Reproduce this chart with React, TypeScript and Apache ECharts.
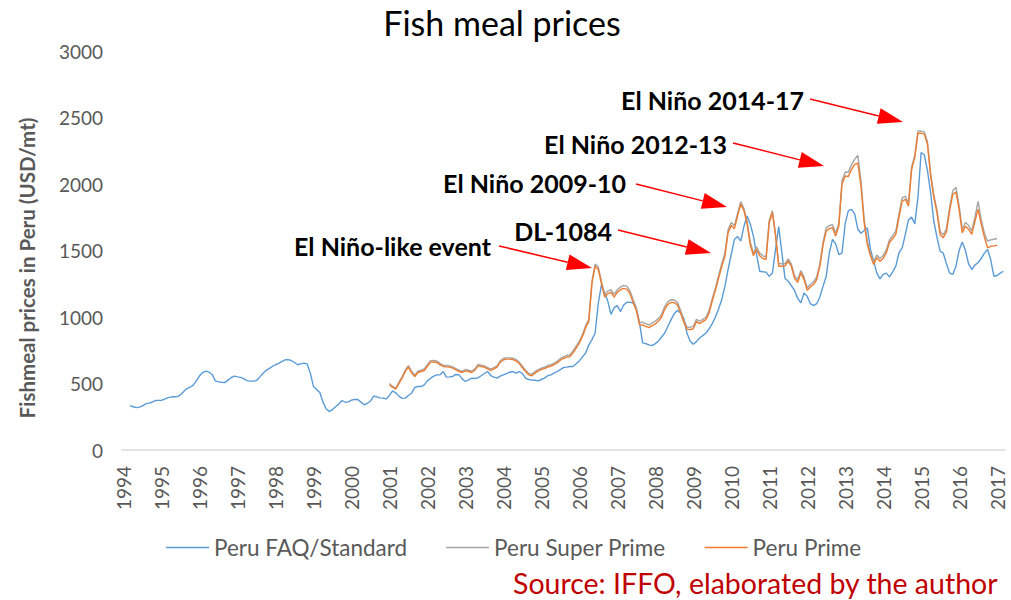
import React, { useEffect, useRef } from 'react';
import * as echarts from 'echarts';

const YEARS = ['1994','1995','1996','1997','1998','1999','2000','2001','2002','2003','2004','2005','2006','2007','2008','2009','2010','2011','2012','2013','2014','2015','2016','2017'];
const MONTHS_LAST_YEAR = 3;
const CATEGORIES: string[] = [];
YEARS.forEach((y, yi) => {
  const n = yi === YEARS.length - 1 ? MONTHS_LAST_YEAR : 12;
  for (let m = 1; m <= n; m++) CATEGORIES.push(`${y}-${String(m).padStart(2, '0')}`);
});

const Y_TICKS = [0, 500, 1000, 1500, 2000, 2500, 3000];
const SERIES_NAMES = ['Peru FAQ/Standard', 'Peru Super Prime', 'Peru Prime'];

const FAQ_STANDARD: (number | null)[] = [
  null, null,
  334,325,319,322,332,347,352,359,372,373,
  374,382,394,398,400,401,415,440,462,472,488,520,
  558,582,593,585,568,520,512,509,507,525,545,555,
  550,546,535,522,518,519,522,548,575,598,612,628,
  641,652,665,678,680,673,658,641,648,653,648,578,
  477,455,432,360,310,289,305,325,345,372,359,362,
  375,380,380,360,340,350,368,405,400,392,390,384,
  410,445,430,405,388,390,410,427,470,478,477,490,
  520,540,555,565,565,590,548,550,553,568,565,535,
  515,528,540,538,542,558,575,590,560,548,540,555,
  565,575,585,590,578,590,575,540,530,525,524,520,
  530,540,558,565,578,590,605,620,623,628,628,648,
  670,700,729,790,830,880,1106,1244,1180,1120,1020,1070,
  1085,1040,1090,1110,1112,1105,1060,960,805,800,790,785,
  800,820,850,880,930,980,1025,1050,1030,990,880,820,
  795,815,842,860,880,910,950,1000,1060,1131,1230,1357,
  1470,1583,1605,1570,1680,1759,1700,1608,1470,1344,1340,1337,
  1306,1330,1508,1679,1483,1290,1269,1235,1200,1140,1106,1181,
  1156,1100,1085,1100,1150,1230,1306,1483,1583,1550,1470,1480,
  1700,1800,1809,1775,1660,1630,1650,1671,1508,1420,1330,1287,
  1320,1330,1302,1340,1382,1483,1520,1620,1730,1751,1700,1900,
  2237,2220,2100,1935,1720,1600,1495,1480,1400,1330,1320,1382,
  1500,1563,1500,1400,1357,1390,1410,1440,1480,1508,1430,1306,
  1312,1330,1344,
];

const NULL_84 = new Array(84).fill(null);

const SUPER_PRIME: (number | null)[] = [
  ...NULL_84,
  500,478,465,510,552,600,635,592,562,592,600,610,
  642,672,674,668,650,638,635,632,625,612,600,592,
  605,600,592,610,643,638,633,620,608,620,633,670,
  688,693,693,690,680,660,630,600,575,570,590,605,
  615,622,635,642,652,667,688,700,712,714,745,780,
  818,868,935,982,1272,1398,1375,1268,1170,1195,1205,1170,
  1205,1225,1238,1232,1198,1132,1070,962,960,950,940,955,
  968,990,1020,1080,1115,1130,1128,1110,1050,980,925,922,
  930,982,968,982,998,1048,1138,1218,1310,1400,1478,1655,
  1710,1686,1778,1868,1818,1718,1565,1482,1528,1480,1460,1452,
  1728,1800,1625,1400,1400,1402,1437,1398,1308,1278,1350,1300,
  1220,1245,1265,1302,1400,1562,1668,1688,1694,1630,1706,2025,
  2090,2088,2145,2185,2216,2020,1735,1568,1480,1415,1466,1440,
  1462,1505,1582,1612,1645,1775,1895,1908,1856,2130,2215,2398,
  2398,2392,2318,2080,1920,1805,1642,1618,1662,1825,1950,1975,
  1838,1658,1710,1688,1648,1750,1870,1730,1630,1570,1580,1585,
  1590, null, null,
];

const PRIME: (number | null)[] = [
  ...NULL_84,
  490,470,457,500,540,590,623,580,553,583,590,598,
  630,661,662,658,640,628,625,623,615,603,590,583,
  595,590,583,600,633,628,623,610,598,610,623,660,
  678,683,683,680,670,650,620,590,565,558,578,595,
  605,612,623,630,641,655,675,688,699,700,730,766,
  804,854,920,967,1256,1380,1357,1250,1150,1175,1185,1150,
  1185,1205,1215,1210,1175,1110,1050,942,940,930,920,935,
  948,970,1000,1060,1095,1110,1108,1090,1030,960,908,905,
  912,965,950,965,980,1030,1120,1200,1290,1380,1457,1633,
  1689,1664,1759,1850,1800,1700,1545,1462,1508,1460,1440,1432,
  1709,1784,1608,1382,1382,1385,1419,1380,1290,1260,1332,1281,
  1201,1225,1244,1281,1380,1540,1646,1665,1671,1608,1683,1998,
  2060,2056,2110,2148,2156,1985,1709,1545,1460,1395,1445,1419,
  1440,1483,1560,1590,1621,1750,1872,1885,1834,2111,2200,2382,
  2382,2375,2299,2060,1900,1784,1621,1596,1640,1800,1922,1940,
  1809,1633,1683,1660,1621,1720,1809,1696,1600,1520,1533,1533,
  1540, null, null,
];

const ANNOTATIONS = [
  { text: 'El Niño 2014-17', tx: 804, ty: 100, from: [810, 99], to: [903, 122] },
  { text: 'El Niño 2012-13', tx: 727, ty: 144, from: [733, 143], to: [824, 166] },
  { text: 'El Niño 2009-10', tx: 626, ty: 183, from: [636, 184], to: [727, 207] },
  { text: 'DL-1084', tx: 612, ty: 231, from: [618, 230], to: [711, 253] },
  { text: 'El Niño-like event', tx: 491, ty: 246, from: [499, 246], to: [592, 268] },
];

const FONT = 'Lato, "Open Sans", sans-serif';
const COLORS = ['#5B9BD5', '#A5A5A5', '#ED7D31'];

function arrow(from: number[], to: number[]) {
  const dx = to[0] - from[0];
  const dy = to[1] - from[1];
  const len = Math.sqrt(dx * dx + dy * dy);
  const ux = dx / len, uy = dy / len;
  const headLen = 25, headHalf = 8;
  const bx = to[0] - ux * headLen, by = to[1] - uy * headLen;
  const px = -uy, py = ux;
  return [
    {
      type: 'line',
      shape: { x1: from[0], y1: from[1], x2: bx, y2: by },
      style: { stroke: '#FF0000', lineWidth: 1.5 },
      silent: true,
    },
    {
      type: 'polygon',
      shape: { points: [[to[0], to[1]], [bx + px * headHalf, by + py * headHalf], [bx - px * headHalf, by - py * headHalf]] },
      style: { fill: '#FF0000' },
      silent: true,
    },
  ];
}

export default function App() {
  const ref = useRef<HTMLDivElement>(null);
  useEffect(() => {
    if (!ref.current) return;
    const chart = echarts.init(ref.current, undefined, { renderer: 'svg' });
    const graphics: any[] = [
      {
        type: 'text', x: 502, y: 22,
        style: { text: 'Fish meal prices', fill: '#000000', fontFamily: FONT, fontSize: 34, align: 'center', verticalAlign: 'middle' },
      },
      {
        type: 'text', x: 27, y: 268, rotation: Math.PI / 2,
        style: { text: 'Fishmeal prices in Peru (USD/mt)', fill: '#595959', fontFamily: FONT, fontWeight: 'bold', fontSize: 20.5, align: 'center', verticalAlign: 'middle' },
      },
      {
        type: 'text', x: 513, y: 583,
        style: { text: 'Source: IFFO, elaborated by the author', fill: '#C00000', fontFamily: FONT, fontSize: 28.5, align: 'left', verticalAlign: 'middle' },
      },
    ];
    ANNOTATIONS.forEach((a) => {
      graphics.push({
        type: 'text', x: a.tx, y: a.ty,
        style: { text: a.text, fill: '#000000', fontFamily: FONT, fontWeight: 'bold', fontSize: 25, align: 'right', verticalAlign: 'middle' },
      });
      graphics.push(...arrow(a.from, a.to));
    });

    const seriesData = [FAQ_STANDARD, SUPER_PRIME, PRIME];
    chart.setOption({
      animation: false,
      backgroundColor: '#ffffff',
      grid: { left: 122, right: 6, top: 51, bottom: 150, containLabel: false },
      legend: {
        data: SERIES_NAMES,
        left: 161,
        top: 531,
        icon: 'rect',
        itemWidth: 43,
        itemHeight: 1.5,
        itemGap: 39,
        textStyle: { fontFamily: FONT, fontSize: 22.5, color: '#595959' },
      },
      xAxis: {
        type: 'category',
        data: CATEGORIES,
        boundaryGap: true,
        axisLine: { lineStyle: { color: '#D9D9D9', width: 1.5 } },
        axisTick: { show: false },
        axisLabel: {
          interval: (index: number, value: string) => value.endsWith('-01'),
          formatter: (value: string) => value.slice(0, 4),
          rotate: 90,
          margin: 16,
          color: '#595959',
          fontFamily: FONT,
          fontSize: 19,
        },
        splitLine: { show: false },
      },
      yAxis: {
        type: 'value',
        min: Y_TICKS[0],
        max: Y_TICKS[Y_TICKS.length - 1],
        interval: 500,
        axisLine: { show: false },
        axisTick: { show: false },
        splitLine: { show: false },
        axisLabel: { color: '#595959', fontFamily: FONT, fontSize: 19, margin: 19, formatter: (v: number) => String(v) },
      },
      series: SERIES_NAMES.map((name, i) => ({
        name,
        type: 'line',
        data: seriesData[i],
        symbol: 'none',
        showSymbol: false,
        connectNulls: false,
        lineStyle: { color: COLORS[i], width: 1.4 },
        itemStyle: { color: COLORS[i] },
        z: 2 + i,
      })),
      graphic: graphics,
    });
    return () => chart.dispose();
  }, []);
  return <div ref={ref} style={{ position: 'absolute', left: 0, top: 0, width: 1011, height: 600 }} />;
}
